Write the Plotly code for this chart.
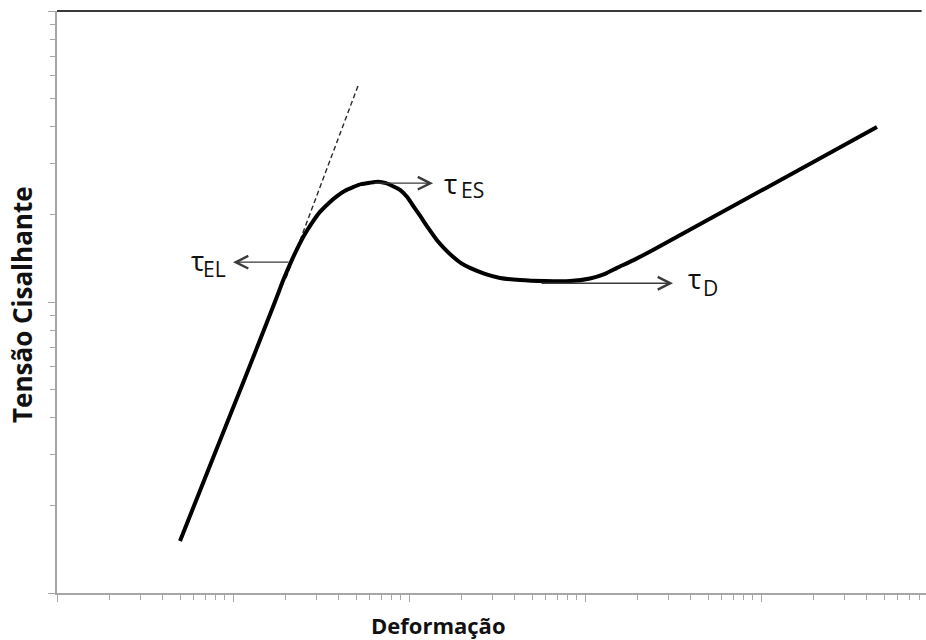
import numpy as np
import plotly.graph_objects as go

# Curve (log-log axes)
strain = [5.00, 7.70, 11.7, 17.3, 19.2, 21.1, 23.1, 25.3, 28.1, 31.2, 35.1, 39.0, 43.3,
          48.1, 53.4, 60.0, 66.7, 74.0, 81.1, 88.9, 97.4, 106.8, 115.5, 128.2, 144.2,
          160.1, 177.8, 197.5, 222, 270, 329, 427, 593, 822, 1068, 1299, 1520, 1874,
          2434, 45600]
stress = [1.51, 2.91, 5.48, 10.0, 11.8, 13.5, 15.2, 16.9, 18.7, 20.4, 21.9, 23.1, 24.1,
          24.8, 25.4, 25.7, 25.9, 25.6, 25.0, 24.3, 23.0, 21.2, 19.8, 18.0, 16.3,
          15.2, 14.3, 13.6, 13.1, 12.5, 12.1, 11.9, 11.8, 11.8, 12.05, 12.5, 13.1, 13.9,
          15.1, 39.9]

# Elastic tangent (dashed)
tangent_x = [20.0, 51.3]
tangent_y = [12.1, 55.3]

# Characteristic stresses: subscript, arrow tail x, arrow tip x, y
arrow_names = ["EL", "ES", "D"]
arrow_tail_x = [21.1, 62.4, 555]
arrow_tip_x = [10.0, 137, 3162]
arrow_y = [13.7, 25.6, 11.6]

W, H = 926, 640
L, R, T, B = 57, 0, 11, 47

fig = go.Figure()
fig.add_trace(go.Scatter(x=tangent_x, y=tangent_y, mode="lines",
                         line=dict(color="#2a2a2a", width=1.4, dash="5px,3px"),
                         hoverinfo="skip", showlegend=False))
fig.add_trace(go.Scatter(x=strain, y=stress, mode="lines",
                         line=dict(color="#000000", width=4, shape="spline", smoothing=0.5),
                         showlegend=False))

anns = []
lab_cfg = {
    "EL": dict(tx=-27, ty=2, txa="right", sx=-5, sy=-7, sxa="right"),
    "ES": dict(tx=9, ty=0, txa="left", sx=26, sy=-7, sxa="left"),
    "D": dict(tx=13, ty=5, txa="left", sx=28, sy=-5, sxa="left"),
}
for name, tx, hx, yy in zip(arrow_names, arrow_tail_x, arrow_tip_x, arrow_y):
    anns.append(dict(x=np.log10(hx), y=np.log10(yy), ax=np.log10(tx), ay=np.log10(yy),
                     xref="x", yref="y", axref="x", ayref="y", text="", showarrow=True,
                     arrowhead=5, arrowsize=1.9, arrowwidth=1.3, arrowcolor="#3a3a3a"))
    c = lab_cfg[name]
    anns.append(dict(x=np.log10(hx), y=np.log10(yy), xref="x", yref="y", text="τ",
                     showarrow=False, xanchor=c["txa"], yanchor="middle",
                     xshift=c["tx"], yshift=c["ty"],
                     font=dict(family="Open Sans", size=28, color="#111111")))
    anns.append(dict(x=np.log10(hx), y=np.log10(yy), xref="x", yref="y", text=name,
                     showarrow=False, xanchor=c["sxa"], yanchor="middle",
                     xshift=c["sx"], yshift=c["sy"],
                     font=dict(family="Open Sans", size=21, color="#111111")))

pw = W - L - R
ph = H - T - B
anns.append(dict(x=(438 - L) / pw, y=0, xref="paper", yref="paper", yshift=-32,
                 text="<b>Deformação</b>", showarrow=False, xanchor="center", yanchor="middle",
                 font=dict(family="Open Sans", size=22, color="#111111")))
anns.append(dict(x=(22 - L) / pw, y=(593 - 305) / ph, xref="paper", yref="paper",
                 text="<b>Tensão Cisalhante</b>", textangle=-90, showarrow=False,
                 xanchor="center", yanchor="middle",
                 font=dict(family="Open Sans", size=26, color="#111111")))

axis_common = dict(type="log", showgrid=False, zeroline=False, showticklabels=False,
                   showline=True, linecolor="#a6a6a6", linewidth=1.5,
                   ticks="outside", ticklen=7, tickwidth=1.3, tickcolor="#a6a6a6", dtick=1,
                   minor=dict(dtick="D1", ticks="outside", ticklen=5, tickwidth=1.3,
                              tickcolor="#a6a6a6"))

fig.update_layout(
    width=W, height=H, margin=dict(l=L, r=R, t=T, b=B),
    paper_bgcolor="white", plot_bgcolor="white",
    xaxis=dict(range=[0, pw / 176], **axis_common),
    yaxis=dict(range=[0, 2], **axis_common),
    annotations=anns,
    shapes=[dict(type="line", xref="paper", yref="paper", x0=0, x1=0.995, y0=1, y1=1,
                 line=dict(color="#3a3a3a", width=2))],
)

fig.write_html("out.html", config={"displayModeBar": False})
